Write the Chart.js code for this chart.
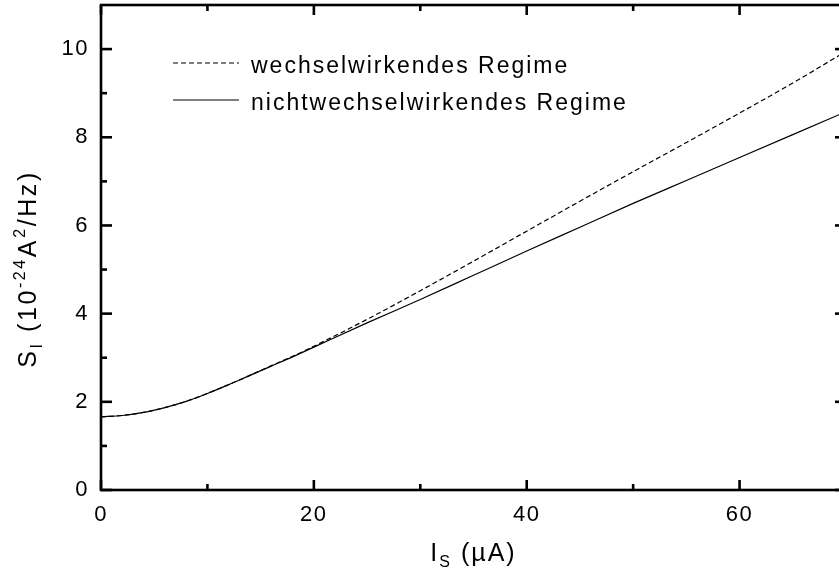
<!DOCTYPE html>
<html>
<head>
<meta charset="utf-8">
<script src="https://cdn.jsdelivr.net/npm/chart.js@4.4.1/dist/chart.umd.min.js"></script>
<style>
    html, body { margin: 0; padding: 0; overflow: hidden; background: #fff; }
    #wrap { width: 860px; height: 581px; }
</style>
</head>
<body>
<div id="wrap"><canvas id="myChart" width="860" height="581"></canvas></div>
<script>
const current = [0, 2, 4, 6, 8, 10, 12, 14, 16, 18, 20, 25, 30, 35, 40, 45, 50, 55, 60, 65, 70];
const wechselwirkend = [1.66, 1.69, 1.76, 1.87, 2.01, 2.19, 2.39, 2.6, 2.82, 3.03, 3.26, 3.87, 4.52, 5.19, 5.87, 6.55, 7.22, 7.88, 8.55, 9.23, 9.95];
const nichtwechselwirkend = [1.66, 1.69, 1.76, 1.87, 2.01, 2.19, 2.39, 2.6, 2.81, 3.02, 3.24, 3.79, 4.32, 4.87, 5.42, 5.96, 6.5, 7.02, 7.54, 8.06, 8.58];

const xTickLabels = [0, 20, 40, 60];
const xMinorTicks = [10, 30, 50, 70];
const yTickLabels = [0, 2, 4, 6, 8, 10];
const yMinorTicks = [1, 3, 5, 7, 9];

const legendItems = [
    { text: "wechselwirkendes Regime", dash: [5, 3] },
    { text: "nichtwechselwirkendes Regime", dash: [] }
];

const FONT = "'Liberation Sans', Arial, sans-serif";

// frame with inward ticks on all four sides
const framePlugin = {
    id: "frame",
    beforeDraw(chart) {
        chart.ctx.letterSpacing = "1.5px";
    },
    afterDraw(chart) {
        const ctx = chart.ctx;
        const a = chart.chartArea;
        const xs = chart.scales.x, ys = chart.scales.y;
        ctx.save();
        ctx.strokeStyle = "#000";
        ctx.lineWidth = 2.6;
        ctx.setLineDash([]);
        ctx.strokeRect(a.left, a.top, a.right - a.left, a.bottom - a.top);

        const tick = (x1, y1, x2, y2) => {
            ctx.beginPath(); ctx.moveTo(x1, y1); ctx.lineTo(x2, y2); ctx.stroke();
        };
        xTickLabels.concat(xMinorTicks).forEach(v => {
            const len = xTickLabels.includes(v) ? 10 : 6;
            const px = xs.getPixelForValue(v);
            tick(px, a.bottom, px, a.bottom - len);
            tick(px, a.top, px, a.top + len);
        });
        yTickLabels.concat(yMinorTicks).forEach(v => {
            const len = yTickLabels.includes(v) ? 11 : 6;
            const py = ys.getPixelForValue(v);
            tick(a.left, py, a.left + len, py);
            tick(a.right, py, a.right - len, py);
        });

        // legend
        ctx.fillStyle = "#000";
        ctx.font = "23px " + FONT;
        ctx.letterSpacing = "2px";
        ctx.textBaseline = "alphabetic";
        ctx.textAlign = "left";
        legendItems.forEach((item, i) => {
            const y = 63 + i * 37;
            ctx.lineWidth = 1.2;
            ctx.setLineDash(item.dash);
            tick(173, y, 239, y);
            ctx.setLineDash([]);
            ctx.fillText(item.text, 251, y + 10);
        });

        // axis titles with sub- and superscripts
        const parts = (list) => list.map(p => {
            ctx.font = (p.s ? "16px " : "25px ") + FONT;
            return { ...p, w: ctx.measureText(p.t).width };
        });
        const drawParts = (list, x0, base) => {
            let x = x0;
            list.forEach(p => {
                ctx.font = (p.s ? "16px " : "25px ") + FONT;
                const dy = p.s === "sub" ? 6 : p.s === "sup" ? -11 : 0;
                ctx.fillText(p.t, x, base + dy);
                x += p.w;
            });
        };
        ctx.letterSpacing = "2px";

        const xt = parts([{ t: "I" }, { t: "S", s: "sub" }, { t: " (\u00b5A)" }]);
        const xw = xt.reduce((s, p) => s + p.w, 0);
        drawParts(xt, (a.left + a.right) / 2 - xw / 2, 561);

        ctx.letterSpacing = "2.6px";
        const yt = parts([{ t: "S" }, { t: "I", s: "sub" }, { t: " (10" }, { t: "-24", s: "sup" },
            { t: "A" }, { t: "2", s: "sup" }, { t: "/Hz)" }]);
        const yw = yt.reduce((s, p) => s + p.w, 0);
        ctx.translate(36, 269);
        ctx.rotate(-Math.PI / 2);
        drawParts(yt, -yw / 2, 0);
        ctx.restore();
    }
};

const ctx = document.getElementById("myChart").getContext("2d");

new Chart(ctx, {
    type: "line",
    data: {
        datasets: [
            {
                label: "wechselwirkendes Regime",
                data: current.map((x, i) => ({ x: x, y: wechselwirkend[i] })),
                borderColor: "#000",
                borderWidth: 1.2,
                borderDash: [5, 3],
                pointRadius: 0,
                cubicInterpolationMode: "monotone"
            },
            {
                label: "nichtwechselwirkendes Regime",
                data: current.map((x, i) => ({ x: x, y: nichtwechselwirkend[i] })),
                borderColor: "#000",
                borderWidth: 1.2,
                pointRadius: 0,
                cubicInterpolationMode: "monotone"
            }
        ]
    },
    options: {
        responsive: false,
        animation: false,
        layout: { padding: { left: 0, top: 5, right: 14, bottom: 0 } },
        plugins: {
            legend: { display: false },
            tooltip: { enabled: false }
        },
        scales: {
            x: {
                type: "linear",
                min: 0,
                max: 70,
                grid: { display: false, drawTicks: false },
                border: { display: false },
                afterBuildTicks: s => { s.ticks = xTickLabels.map(v => ({ value: v })); },
                afterFit: s => { s.height = 91; s.paddingLeft = 0; s.paddingRight = 0; },
                ticks: {
                    padding: 12,
                    color: "#000",
                    maxRotation: 0,
                    font: { family: FONT, size: 22 }
                }
            },
            y: {
                type: "linear",
                min: 0,
                max: 11,
                grid: { display: false, drawTicks: false },
                border: { display: false },
                afterBuildTicks: s => { s.ticks = yTickLabels.map(v => ({ value: v })); },
                afterFit: s => { s.width = 101; s.paddingTop = 0; s.paddingBottom = 0; },
                ticks: {
                    padding: 12,
                    color: "#000",
                    font: { family: FONT, size: 22 }
                }
            }
        }
    },
    plugins: [framePlugin]
});
</script>
</body>
</html>
